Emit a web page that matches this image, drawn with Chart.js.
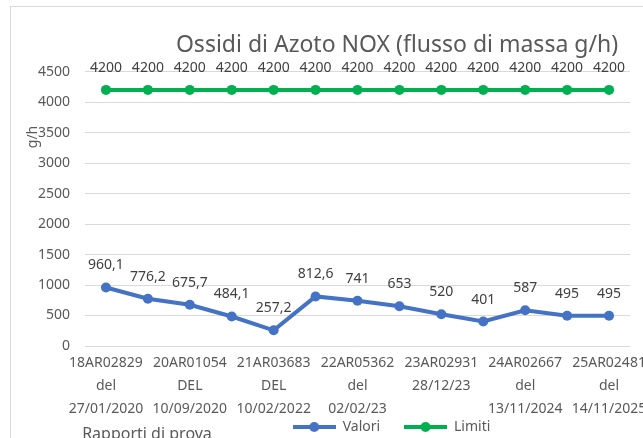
<!DOCTYPE html>
<html>
<head>
<meta charset="utf-8">
<script src="https://cdn.jsdelivr.net/npm/chart.js@4"></script>
<style>
    body { margin: 0; background: #fff; }
    #wrap { position: relative; width: 643px; height: 438px; overflow: hidden; background: #fff; }
    #frame { position: absolute; left: 10px; top: 6px; width: 800px; height: 500px; border: 1px solid #d9d9d9; pointer-events: none; }
    #chart { position: absolute; left: 0; top: 0; }
</style>
</head>
<body>
<div id="wrap">
    <div id="frame"></div>
    <canvas id="chart" width="794" height="444"></canvas>
</div>
<script>
// Rapporti di prova (only every other one is labelled in the picture)
const rapporti = [
    ['18AR02829', 'del', '27/01/2020'], '',
    ['20AR01054', 'DEL', '10/09/2020'], '',
    ['21AR03683', 'DEL', '10/02/2022'], '',
    ['22AR05362', 'del', '02/02/23'], '',
    ['23AR02931', '28/12/23'], '',
    ['24AR02667', 'del', '13/11/2024'], '',
    ['25AR02481', 'del', '14/11/2025']
];
const valori = [960.1, 776.2, 675.7, 484.1, 257.2, 812.6, 741, 653, 520, 401, 587, 495, 495];
const limiti = [4200, 4200, 4200, 4200, 4200, 4200, 4200, 4200, 4200, 4200, 4200, 4200, 4200];
const yTicks = [0, 500, 1000, 1500, 2000, 2500, 3000, 3500, 4000, 4500];

const BLUE = '#4472c4';
const GREEN = '#00b050';
const GREY = '#595959';
const FONT = "'Noto Sans', sans-serif";

// legend symbol: line with a dot in the middle, like Excel
function legendSymbol(color) {
    const c = document.createElement('canvas');
    c.width = 43;
    c.height = 12;
    const g = c.getContext('2d');
    g.strokeStyle = color;
    g.lineWidth = 4;
    g.beginPath();
    g.moveTo(0, 6);
    g.lineTo(43, 6);
    g.stroke();
    g.fillStyle = color;
    g.beginPath();
    g.arc(21.5, 6, 5, 0, Math.PI * 2);
    g.fill();
    return c;
}
const symbols = [legendSymbol(BLUE), legendSymbol(GREEN)];

// value labels above the points, decimal comma
const valueLabels = {
    id: 'valueLabels',
    afterDatasetsDraw(chart) {
        const ctx = chart.ctx;
        ctx.save();
        ctx.font = '14px ' + FONT;
        ctx.fillStyle = '#404040';
        ctx.textAlign = 'center';
        ctx.textBaseline = 'middle';
        chart.data.datasets.forEach((ds, i) => {
            chart.getDatasetMeta(i).data.forEach((pt, j) => {
                const txt = String(ds.data[j]).replace('.', ',');
                ctx.fillText(txt, pt.x, pt.y - 22);
            });
        });
        ctx.restore();
    }
};

// axis titles sit where Excel left them (overlapping the ticks / next to the legend)
const axisTitles = {
    id: 'axisTitles',
    afterDraw(chart) {
        const ctx = chart.ctx;
        ctx.save();
        ctx.fillStyle = GREY;
        ctx.textAlign = 'center';
        ctx.textBaseline = 'middle';
        ctx.font = '16px ' + FONT;
        ctx.fillText('Rapporti di prova', 147, 434);
        ctx.font = '14px ' + FONT;
        ctx.translate(33, 137);
        ctx.rotate(-Math.PI / 2);
        ctx.fillText('g/h', 0, 0);
        ctx.restore();
    }
};

new Chart(document.getElementById('chart'), {
    type: 'line',
    data: {
        labels: rapporti,
        datasets: [
            {
                label: 'Valori',
                data: valori,
                borderColor: BLUE,
                backgroundColor: BLUE,
                borderWidth: 4,
                pointRadius: 5,
                pointHoverRadius: 5,
                pointBorderWidth: 0,
                tension: 0
            },
            {
                label: 'Limiti',
                data: limiti,
                borderColor: GREEN,
                backgroundColor: GREEN,
                borderWidth: 4,
                pointRadius: 5,
                pointHoverRadius: 5,
                pointBorderWidth: 0,
                tension: 0
            }
        ]
    },
    options: {
        responsive: false,
        animation: false,
        layout: { padding: 0 },
        plugins: {
            title: {
                display: true,
                text: 'Ossidi di Azoto NOX (flusso di massa g/h)',
                color: GREY,
                font: { family: FONT, size: 23, weight: 'normal', lineHeight: 1.2 },
                padding: { top: 32, bottom: 12 }
            },
            legend: {
                position: 'bottom',
                labels: {
                    color: GREY,
                    font: { family: FONT, size: 14 },
                    usePointStyle: true,
                    pointStyleWidth: 43,
                    padding: 2,
                    generateLabels(chart) {
                        const items = Chart.defaults.plugins.legend.labels.generateLabels(chart);
                        items.forEach(it => {
                            it.pointStyle = symbols[it.datasetIndex];
                            // Excel leaves a wide gap between the entries and sits a bit left
                            it.text = it.text + (it.datasetIndex === 0 ? '      ' : '   ');
                        });
                        return items;
                    }
                }
            },
            tooltip: { enabled: false }
        },
        scales: {
            x: {
                offset: true,
                grid: { display: false, drawTicks: false },
                border: { display: false },
                ticks: {
                    color: GREY,
                    font: { family: FONT, size: 14, lineHeight: 1.64 },
                    autoSkip: false,
                    maxRotation: 0,
                    minRotation: 0,
                    padding: 6
                },
                afterFit(scale) { scale.height = 72; }
            },
            y: {
                min: 0,
                max: 4500,
                afterBuildTicks(scale) { scale.ticks = yTicks.map(v => ({ value: v })); },
                grid: { color: '#d9d9d9', lineWidth: 1, drawTicks: false },
                border: { display: false },
                ticks: {
                    color: GREY,
                    font: { family: FONT, size: 14 },
                    padding: 15,
                    callback: v => String(v)
                },
                afterFit(scale) { scale.width = 85; }
            },
            spacer: {
                type: 'linear',
                position: 'right',
                grid: { display: false },
                border: { display: false },
                ticks: { display: false },
                afterFit(scale) { scale.width = 164; }
            }
        }
    },
    plugins: [valueLabels, axisTitles]
});
</script>
</body>
</html>
